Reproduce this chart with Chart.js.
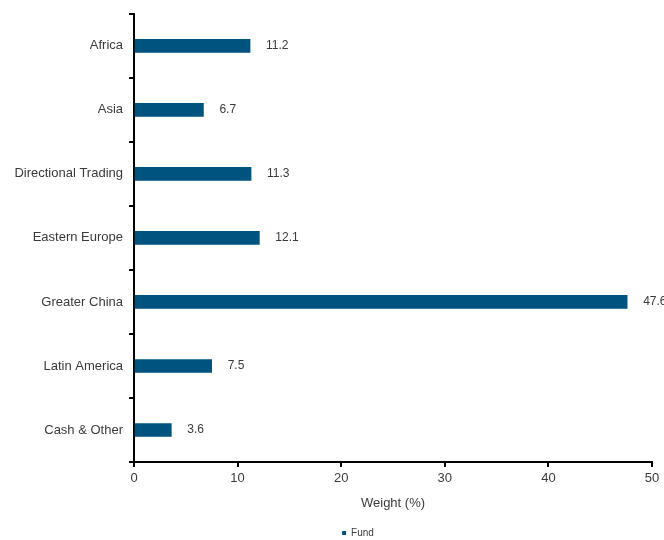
<!DOCTYPE html>
<html>
<head>
<meta charset="utf-8">
<script src="https://cdn.jsdelivr.net/npm/chart.js@4/dist/chart.umd.min.js"></script>
<style>
  body { margin: 0; background: #fff; }
  #wrap { width: 664px; height: 540px; }
</style>
</head>
<body>
<div id="wrap"><canvas id="allocChart"></canvas></div>
<script>
const regions = ['Africa', 'Asia', 'Directional Trading', 'Eastern Europe', 'Greater China', 'Latin America', 'Cash & Other'];
const fundWeights = [11.2, 6.7, 11.3, 12.1, 47.6, 7.5, 3.6];
const weightTicks = [0, 10, 20, 30, 40, 50];

const barColor = '#00527f';
const textColor = '#3a3a3a';
const fontFam = '"Liberation Sans", Arial, sans-serif';

// write the value a little past the end of each bar
const valueLabels = {
  id: 'valueLabels',
  afterDatasetsDraw(chart) {
    const ctx = chart.ctx;
    const meta = chart.getDatasetMeta(0);
    ctx.save();
    ctx.font = '12px ' + fontFam;
    ctx.fillStyle = textColor;
    ctx.textAlign = 'left';
    ctx.textBaseline = 'middle';
    meta.data.forEach((bar, i) => {
      ctx.fillText(fundWeights[i].toFixed(1), bar.x + 16, bar.y);
    });
    ctx.restore();
  }
};

// legend in the original sits a bit right of the canvas centre
const legendShift = {
  id: 'legendShift',
  afterLayout(chart) {
    if (chart.legend) {
      chart.legend.left += 32;
      chart.legend.right += 32;
    }
  }
};

new Chart(document.getElementById('allocChart'), {
  type: 'bar',
  data: {
    labels: regions,
    datasets: [{
      label: 'Fund',
      data: fundWeights,
      backgroundColor: barColor,
      barThickness: 13
    }]
  },
  plugins: [valueLabels, legendShift],
  options: {
    indexAxis: 'y',
    responsive: true,
    maintainAspectRatio: false,
    animation: false,
    layout: { padding: { top: 9, right: 12, left: 0, bottom: -8 } },
    plugins: {
      tooltip: { enabled: false },
      legend: {
        position: 'bottom',
        labels: {
          usePointStyle: true,
          pointStyle: 'rect',
          boxWidth: 4,
          boxHeight: 4,
          padding: 6,
          color: textColor,
          font: { family: fontFam, size: 10 }
        }
      }
    },
    scales: {
      x: {
        min: 0,
        max: 50,
        afterBuildTicks: axis => { axis.ticks = weightTicks.map(v => ({ value: v })); },
        afterFit: axis => { axis.height = 60; },
        border: { display: true, color: '#000', width: 2 },
        grid: { drawOnChartArea: false, drawTicks: true, tickLength: 5, color: '#000', lineWidth: 2 },
        ticks: { color: textColor, padding: 4, font: { family: fontFam, size: 13 } },
        title: {
          display: true,
          text: 'Weight (%)',
          color: textColor,
          padding: { top: 2, bottom: 11 },
          font: { family: fontFam, size: 13 }
        }
      },
      y: {
        afterFit: axis => { axis.width = 134; },
        border: { display: true, color: '#000', width: 2 },
        grid: { offset: true, drawOnChartArea: false, drawTicks: true, tickLength: 5, color: '#000', lineWidth: 2 },
        ticks: { color: textColor, padding: 6, font: { family: fontFam, size: 13 } }
      }
    }
  }
});
</script>
</body>
</html>
